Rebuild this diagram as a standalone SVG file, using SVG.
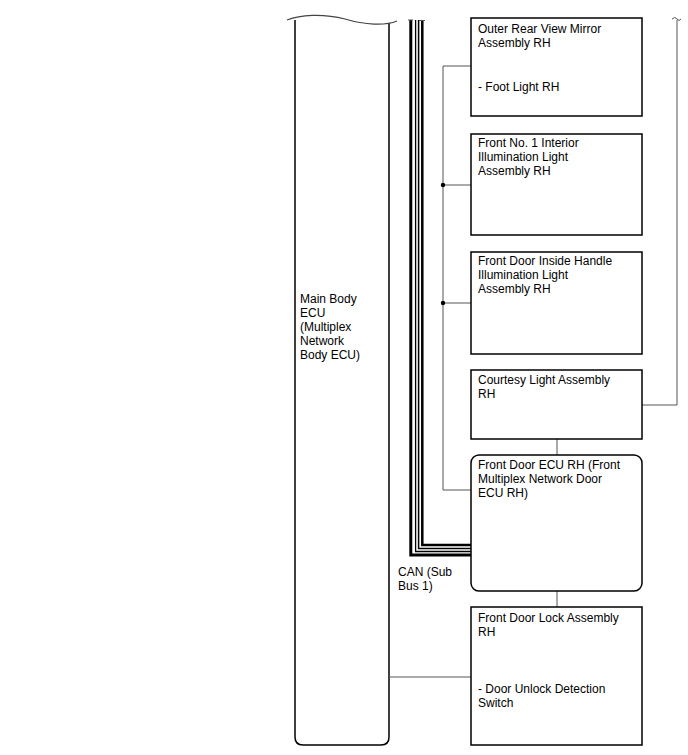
<svg xmlns="http://www.w3.org/2000/svg" width="688" height="755" viewBox="0 0 688 755">
<style>
.box{fill:#fff;stroke:#000;stroke-width:1.5}
.t{font-family:"Liberation Sans",Arial,sans-serif;font-size:12px;fill:#000}
.w{fill:none;stroke:#555;stroke-width:1}
.bus{fill:none;stroke:#000}
</style>
<rect width="688" height="755" fill="#fff"/>
<g id="main-body-ecu">
<path d="M295,20 L295,737 Q295,745 303,745 L381,745 Q389,745 389,737 L389,23" fill="none" stroke="#000" stroke-width="1.5"/>
<path d="M287,20 C300,15 322,13 345,19 C365,25 385,26 397,21" fill="none" stroke="#444" stroke-width="1.2"/>
<text class="t" x="300" y="303">Main Body</text>
<text class="t" x="300" y="317">ECU</text>
<text class="t" x="300" y="331">(Multiplex</text>
<text class="t" x="300" y="345">Network</text>
<text class="t" x="300" y="359">Body ECU)</text>
</g>
<g id="connectors">
<path class="bus" stroke-width="3" d="M410.8,20 V555 H471"/>
<path class="bus" stroke-width="1.3" d="M415.6,20 V551.5 H471"/>
<path class="bus" stroke-width="1.5" d="M418.6,20 V548.5 H471"/>
<path class="bus" stroke-width="2.5" d="M422.3,20 V545 H471"/>
<path d="M408,20 H413 M419,20.5 H425" stroke="#555" stroke-width="1"/>
<path class="w" d="M471,66 H443 V490 H471 M443,185 H471 M443,303 H471"/>
<circle cx="443" cy="185" r="2.2" fill="#000"/>
<circle cx="443" cy="303" r="2.2" fill="#000"/>
<path class="w" d="M642,405 H677 V20 M672,19 Q675,16 677,19 Q679,22 681,19"/>
<path class="w" d="M557,439 V455 M557,591 V607 M389,677 H471"/>
<text class="t" x="398" y="576">CAN (Sub</text>
<text class="t" x="398" y="590">Bus 1)</text>
</g>
<g id="outer-rear-view-mirror">
<rect class="box" x="471" y="18" width="171" height="98"/>
<text class="t" x="478" y="33">Outer Rear View Mirror</text>
<text class="t" x="478" y="47">Assembly RH</text>
<text class="t" x="478" y="91">- Foot Light RH</text>
</g>
<g id="front-no1-interior-illumination">
<rect class="box" x="471" y="134" width="171" height="101"/>
<text class="t" x="478" y="147">Front No. 1 Interior</text>
<text class="t" x="478" y="161">Illumination Light</text>
<text class="t" x="478" y="175">Assembly RH</text>
</g>
<g id="front-door-inside-handle">
<rect class="box" x="471" y="252" width="171" height="102"/>
<text class="t" x="478" y="265">Front Door Inside Handle</text>
<text class="t" x="478" y="279">Illumination Light</text>
<text class="t" x="478" y="293">Assembly RH</text>
</g>
<g id="courtesy-light">
<rect class="box" x="471" y="370" width="171" height="69"/>
<text class="t" x="478" y="384">Courtesy Light Assembly</text>
<text class="t" x="478" y="398">RH</text>
</g>
<g id="front-door-ecu">
<rect class="box" x="471" y="455" width="171" height="136" rx="8" ry="8"/>
<text class="t" x="478" y="469">Front Door ECU RH (Front</text>
<text class="t" x="478" y="483">Multiplex Network Door</text>
<text class="t" x="478" y="497">ECU RH)</text>
</g>
<g id="front-door-lock">
<rect class="box" x="471" y="607" width="171" height="138"/>
<text class="t" x="478" y="622">Front Door Lock Assembly</text>
<text class="t" x="478" y="636">RH</text>
<text class="t" x="478" y="693">- Door Unlock Detection</text>
<text class="t" x="478" y="707">Switch</text>
</g>
</svg>
